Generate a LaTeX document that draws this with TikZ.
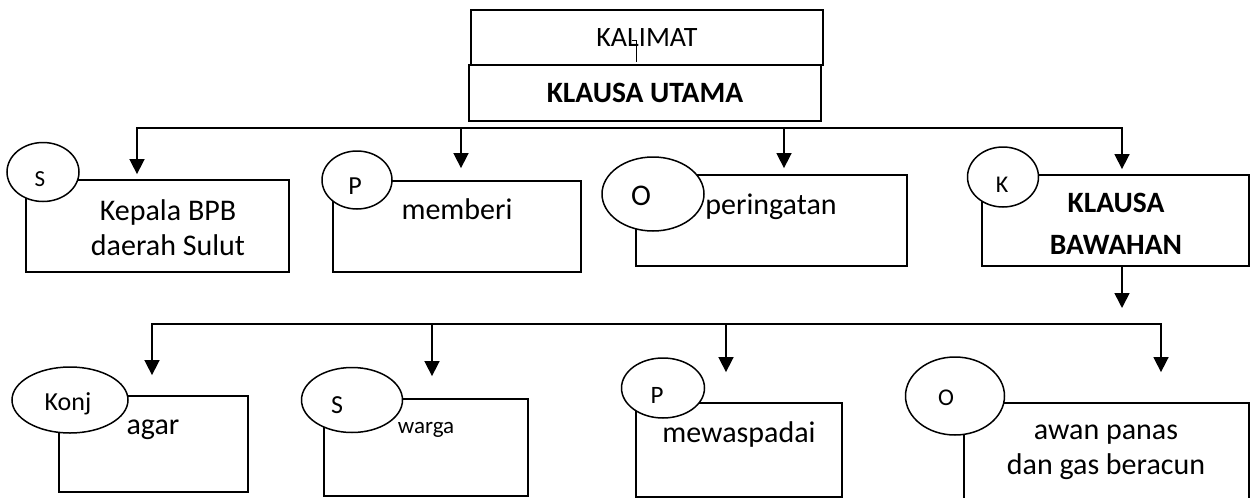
\documentclass[tikz,border=0pt]{standalone}
\usepackage{fontspec}
\setmainfont{Carlito}
\usetikzlibrary{arrows.meta,shapes.geometric}

\begin{document}
\begin{tikzpicture}[
    x=1pt, y=-1pt,
    >={Triangle[width=15pt,length=15pt]},
    kot/.style={draw, line width=1.8pt, rectangle, inner sep=0pt},
    elip/.style={draw, line width=1.5pt, ellipse, fill=white, inner sep=0pt},
    tks/.style={align=center, inner sep=0pt, font=\fontsize{30}{35}\selectfont},
    lbl/.style={inner sep=0pt, anchor=base},
    bus/.style={line width=1.6pt, line cap=rect},
    pnh/.style={line width=1.6pt, ->},
  ]
    \useasboundingbox (0,0) rectangle (1251,498);
    \clip (0,0) rectangle (1251,498);

    % kalimat dan klausa utama
    \node[kot, minimum width=352pt, minimum height=55pt, font=\fontsize{28}{32}\selectfont] (kal) at (647,37.5) {KALIMAT};
    \node[kot, minimum width=352pt, minimum height=56pt, font=\bfseries\fontsize{29.5}{35}\selectfont] (ku) at (645,93) {KLAUSA UTAMA};
    \draw[line width=1pt] (632,40) -- (636,40) -- (636,62);

    % baris pertama
    \node[kot, minimum width=263pt, minimum height=92pt] (s1) at (157.5,226) {};
    \node[kot, minimum width=248pt, minimum height=91pt] (p1) at (457,226.5) {};
    \node[kot, minimum width=271pt, minimum height=91pt] (o1) at (771.5,220.5) {};
    \node[kot, minimum width=267pt, minimum height=91pt] (k1) at (1115.5,220.5) {};

    \node[elip, minimum width=72pt, minimum height=59pt] (es1) at (43,172) {};
    \node[elip, minimum width=70pt, minimum height=58pt] (ep1) at (357,180) {};
    \node[elip, minimum width=102pt, minimum height=74pt] (eo1) at (653,194) {};
    \node[elip, minimum width=71pt, minimum height=60pt] (ek1) at (1003,177) {};

    \node[lbl, font=\fontsize{23}{27}\selectfont] (ls1) at (40,186) {S};
    \node[lbl, font=\fontsize{26}{30}\selectfont] (lp1) at (355,194) {P};
    \node[lbl, font=\fontsize{30}{34}\selectfont] (lo1) at (641,205) {O};
    \node[lbl, font=\fontsize{24}{28}\selectfont] (lk1) at (1002,192) {K};

    \node[tks] (ts1) at (168,228) {Kepala BPB\\daerah Sulut};
    \node[tks, anchor=base] (tp1) at (457,219) {memberi};
    \node[tks, anchor=base] (to1) at (771,214) {peringatan};
    \node[tks, font=\bfseries\fontsize{29.5}{42}\selectfont] (tk1) at (1116,223.5) {KLAUSA\\BAWAHAN};

    % baris kedua
    \node[kot, minimum width=189pt, minimum height=96pt] (kj) at (153.5,444) {};
    \node[kot, minimum width=204pt, minimum height=97pt] (s2) at (426,447.5) {};
    \node[kot, minimum width=206pt, minimum height=94pt] (p2) at (739,450) {};
    \node[kot, minimum width=285pt, minimum height=137pt] (o2) at (1106.5,471.5) {};

    \node[elip, minimum width=116pt, minimum height=66pt] (ekj) at (70,400) {};
    \node[elip, minimum width=101pt, minimum height=65pt] (es2) at (352,400) {};
    \node[elip, minimum width=83pt, minimum height=60pt] (ep2) at (663,388) {};
    \node[elip, minimum width=99pt, minimum height=78pt] (eo2) at (955,396) {};

    \node[lbl, font=\fontsize{26}{30}\selectfont] (lkj) at (68,410) {Konj};
    \node[lbl, font=\fontsize{26}{30}\selectfont] (ls2) at (337,413) {S};
    \node[lbl, font=\fontsize{25}{29}\selectfont] (lp2) at (657,403) {P};
    \node[lbl, font=\fontsize{24}{28}\selectfont] (lo2) at (946,405) {O};

    \node[tks, anchor=base] (tkj) at (153,434) {agar};
    \node[tks, anchor=base, font=\fontsize{23}{28}\selectfont] (ts2) at (426,433) {warga};
    \node[tks, anchor=base] (tp2) at (739,442) {mewaspadai};
    \node[tks] (to2) at (1106,452) {awan panas\\dan gas beracun};

    % penghubung
    \coordinate (u1w) at (137,128);
    \coordinate (u1e) at (1122,128);
    \draw[bus] (u1w) -- (u1e);
    \foreach \x/\n/\g in {137/s1/5, 461/p1/12, 784/o1/6, 1122/k1/5}
      \draw[pnh, shorten >=\g pt] (\x,128) -- (\x,128 |- \n.north);

    \coordinate (kb) at (1122,308);
    \draw[pnh] (1122,0 |- k1.south) -- (kb);

    \coordinate (u2w) at (152,324);
    \coordinate (u2e) at (1161,324);
    \draw[bus] (u2w) -- (u2e);
    \foreach \x/\n/\g in {152/kj/20, 432/s2/22, 726/p2/30, 1161/o2/30}
      \draw[pnh, shorten >=\g pt] (\x,324) -- (\x,324 |- \n.north);
  \end{tikzpicture}
\end{document}
